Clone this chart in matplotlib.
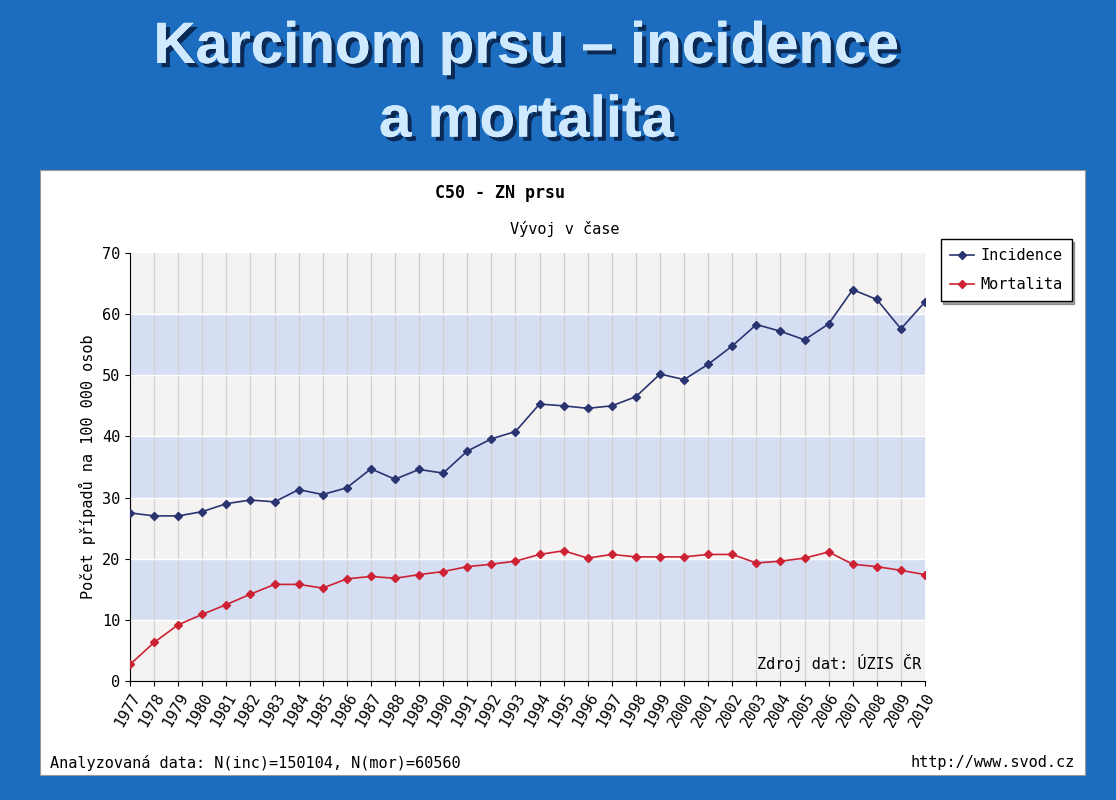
import matplotlib
matplotlib.use("Agg")
import matplotlib.pyplot as plt
import matplotlib.patheffects as pe

years = list(range(1977, 2011))
incidence = [27.5, 27, 27, 27.7, 29, 29.6, 29.3, 31.3, 30.5, 31.6, 34.7, 33, 34.6, 34, 37.6, 39.6, 40.8,
             45.3, 45, 44.6, 45, 46.5, 50.2, 49.3, 51.8, 54.8, 58.3, 57.2, 55.8, 58.4, 64, 62.4, 57.6, 62]
mortalita = [2.7, 6.3, 9.2, 10.9, 12.5, 14.2, 15.8, 15.8, 15.2, 16.7, 17.1, 16.8, 17.4, 17.9, 18.7, 19.1, 19.6,
             20.7, 21.3, 20.1, 20.7, 20.3, 20.3, 20.3, 20.7, 20.7, 19.3, 19.6, 20.1, 21.1, 19.1, 18.7, 18.1, 17.4]

fig = plt.figure(figsize=(11.16, 8), dpi=100)
fig.patch.set_facecolor("#1c6dbf")
bg = fig.add_axes([40/1116, 25/800, 1045/1116, 605/800], zorder=0)
bg.set_facecolor("white")
bg.set_xticks([]); bg.set_yticks([])
for s in bg.spines.values():
    s.set_color("#999999")
for t, y in [("Karcinom prsu – incidence", 0.94), ("a mortalita", 0.848)]:
    fig.text(0.472, y, t, ha="center", va="center", fontsize=42, fontweight="bold", color="#cfeaff",
             family="Liberation Sans",
             path_effects=[pe.withSimplePatchShadow(offset=(3, -3), shadow_rgbFace="#0a2a55", alpha=1), pe.Normal()])

ax = fig.add_axes([130/1116, 119/800, 795/1116, 428/800], zorder=2)
mono = "DejaVu Sans Mono"
for i in range(7):
    ax.axhspan(i*10, i*10+10, color="#d5def3" if i % 2 == 1 else "#f4f3f1", zorder=0, lw=0)
for yr in years:
    ax.axvline(yr, color="#d0d0d0", lw=0.9, zorder=1)
for v in range(10, 70, 10):
    ax.axhline(v, color="white", lw=1, zorder=1)
ax.plot(years, incidence, color="#2a3470", marker="D", ms=4, lw=1.2, label="Incidence", zorder=3)
ax.plot(years, mortalita, color="#cc2233", marker="D", ms=4, lw=1.2, label="Mortalita", zorder=3)
ax.set_xlim(1977, 2010)
ax.set_ylim(0, 70)
ax.set_xticks(years)
ax.set_xticklabels([str(y) for y in years], rotation=60, ha="right", fontsize=11, family=mono, rotation_mode="anchor")
ax.set_yticks(range(0, 71, 10))
ax.tick_params(labelsize=11)
for l in ax.get_yticklabels():
    l.set_family(mono)
for s in ["top", "right"]:
    ax.spines[s].set_visible(False)
ax.set_ylabel("Počet případů na 100 000 osob", family=mono, fontsize=11)
ax.text(0.995, 0.02, "Zdroj dat: ÚZIS ČR", transform=ax.transAxes, ha="right", va="bottom", family=mono, fontsize=11)
leg = ax.legend(loc="upper left", bbox_to_anchor=(1.01, 1.05), prop={"family": mono, "size": 11},
                fancybox=False, edgecolor="black", framealpha=1, shadow=True, labelspacing=0.9,
                handlelength=1.6, handletextpad=0.4, borderpad=0.6)
fig.text(500/1116, 1-193/800, "C50 - ZN prsu", ha="center", va="center", family=mono, fontsize=12, fontweight="bold")
fig.text(565/1116, 1-229/800, "Vývoj v čase", ha="center", va="center", family=mono, fontsize=11)
fig.text(50/1116, 1-763/800, "Analyzovaná data: N(inc)=150104, N(mor)=60560", ha="left", va="center", family=mono, fontsize=11)
fig.text(1075/1116, 1-763/800, "http://www.svod.cz", ha="right", va="center", family=mono, fontsize=11)
fig.savefig("out.png", dpi=100, facecolor=fig.get_facecolor())
